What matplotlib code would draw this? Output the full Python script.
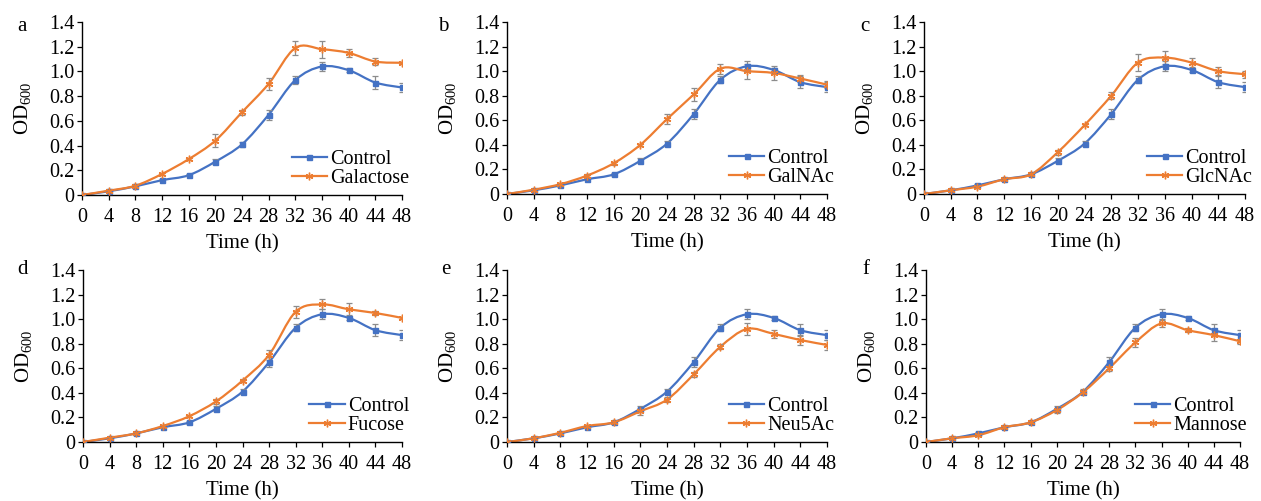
import numpy as np
import matplotlib
matplotlib.use("Agg")
import matplotlib.pyplot as plt
from matplotlib.path import Path
from matplotlib.patches import PathPatch
from matplotlib.ticker import FuncFormatter

plt.rcParams["font.family"] = ["Liberation Serif", "DejaVu Serif"]
plt.rcParams["mathtext.fontset"] = "custom"
plt.rcParams["mathtext.rm"] = "Liberation Serif"

# Time points (h)
time = [0, 4, 8, 12, 16, 20, 24, 28, 32, 36, 40, 44, 48]

# Control (same in every panel)
control = [0, 0.03, 0.07, 0.12, 0.16, 0.27, 0.41, 0.65, 0.93, 1.04, 1.01, 0.91, 0.87]
control_err = [0, 0.005, 0.01, 0.01, 0.01, 0.02, 0.02, 0.04, 0.03, 0.04, 0.015, 0.05, 0.04]

# Sugar treatments
galactose = [0, 0.035, 0.075, 0.17, 0.29, 0.44, 0.67, 0.90, 1.19, 1.18, 1.15, 1.08, 1.07]
galactose_err = [0, 0.01, 0.01, 0.01, 0.01, 0.05, 0.02, 0.05, 0.06, 0.07, 0.03, 0.03, 0.01]

galnac = [0, 0.035, 0.08, 0.15, 0.25, 0.40, 0.61, 0.81, 1.02, 1.00, 0.985, 0.94, 0.89]
galnac_err = [0, 0.005, 0.01, 0.01, 0.01, 0.01, 0.04, 0.05, 0.04, 0.06, 0.06, 0.03, 0.03]

glcnac = [0, 0.03, 0.06, 0.12, 0.16, 0.34, 0.56, 0.80, 1.07, 1.11, 1.07, 1.00, 0.975]
glcnac_err = [0, 0.005, 0.01, 0.01, 0.01, 0.02, 0.01, 0.03, 0.07, 0.05, 0.04, 0.03, 0.03]

fucose = [0, 0.035, 0.07, 0.13, 0.21, 0.33, 0.50, 0.71, 1.06, 1.12, 1.08, 1.05, 1.01]
fucose_err = [0, 0.005, 0.01, 0.01, 0.01, 0.02, 0.01, 0.04, 0.05, 0.04, 0.05, 0.02, 0.01]

neu5ac = [0, 0.03, 0.075, 0.13, 0.16, 0.25, 0.345, 0.55, 0.775, 0.92, 0.88, 0.83, 0.79]
neu5ac_err = [0, 0.005, 0.01, 0.01, 0.01, 0.03, 0.02, 0.02, 0.02, 0.05, 0.03, 0.04, 0.04]

mannose = [0, 0.03, 0.055, 0.12, 0.16, 0.26, 0.405, 0.60, 0.81, 0.965, 0.91, 0.87, 0.82]
mannose_err = [0, 0.005, 0.01, 0.01, 0.01, 0.02, 0.01, 0.02, 0.04, 0.03, 0.015, 0.05, 0.02]

letters = ["a", "b", "c", "d", "e", "f"]
names = ["Galactose", "GalNAc", "GlcNAc", "Fucose", "Neu5Ac", "Mannose"]
series = [galactose, galnac, glcnac, fucose, neu5ac, mannose]
errors = [galactose_err, galnac_err, glcnac_err, fucose_err, neu5ac_err, mannose_err]

blue = "#4472C4"
orange = "#ED7D31"


def smooth_path(x, y):
    # Excel-like smooth line: cubic Bezier segments through the data points
    x = np.asarray(x, float)
    y = np.asarray(y, float)
    n = len(x)
    verts = [(x[0], y[0])]
    codes = [Path.MOVETO]
    for i in range(n - 1):
        x0, y0 = (x[i - 1], y[i - 1]) if i > 0 else (x[i], y[i])
        x3, y3 = (x[i + 2], y[i + 2]) if i + 2 < n else (x[i + 1], y[i + 1])
        c1 = (x[i] + (x[i + 1] - x0) / 6, y[i] + (y[i + 1] - y0) / 6)
        c2 = (x[i + 1] - (x3 - x[i]) / 6, y[i + 1] - (y3 - y[i]) / 6)
        verts += [c1, c2, (x[i + 1], y[i + 1])]
        codes += [Path.CURVE4] * 3
    return Path(verts, codes)


fig = plt.figure(figsize=(12.61, 5.01), dpi=100)

# axes boxes in pixels (left, right, top, bottom)
lefts = [82, 507, 924, 83, 507, 926]
rights = [402, 827, 1245, 402, 827, 1240]
tops = [22, 22, 22, 270, 270, 270]
bottoms = [195, 194, 194, 442, 442, 442]
letter_x = [22, 443, 865, 22, 446, 866]
letter_base = [31, 31, 31, 274, 274, 274]
W, H = 1261, 501

fmt = FuncFormatter(lambda v, p: "0" if abs(v) < 1e-9 else f"{v:.1f}")

for k in range(6):
    ax = fig.add_axes([lefts[k] / W, (H - bottoms[k]) / H,
                       (rights[k] - lefts[k]) / W, (bottoms[k] - tops[k]) / H])

    for vals, err, col, mk, ms, lab in [
        (control, control_err, blue, "s", 3.6, "Control"),
        (series[k], errors[k], orange, (6, 2, 0), 5.5, names[k]),
    ]:
        ax.add_patch(PathPatch(smooth_path(time, vals), facecolor="none",
                               edgecolor=col, lw=1.6, zorder=2))
        ax.errorbar(time, vals, yerr=err, fmt="none", ecolor="#8c8c8c",
                    elinewidth=0.9, capsize=2.5, capthick=0.9, zorder=3)
        ax.plot(time, vals, linestyle="none", marker=mk, color=col,
                markersize=ms, markeredgewidth=1.0, zorder=4)
        ax.plot([], [], color=col, lw=1.6, marker=mk, markersize=ms,
                markeredgewidth=1.0, label=lab)

    ax.set_xlim(0, 48)
    ax.set_ylim(0, 1.4)
    ax.set_xticks(time)
    ax.set_yticks(np.arange(0, 1.41, 0.2))
    ax.yaxis.set_major_formatter(fmt)
    ax.tick_params(labelsize=14.5, length=3.5, width=0.9, direction="out")
    ax.tick_params(axis="x", pad=6)
    ax.tick_params(axis="y", pad=2)
    for s in ["top", "right"]:
        ax.spines[s].set_visible(False)
    for s in ["left", "bottom"]:
        ax.spines[s].set_linewidth(1.0)

    ax.set_xlabel("Time (h)", fontsize=15, labelpad=5)
    ax.set_ylabel("OD$_{600}$", fontsize=15, labelpad=11)
    ax.legend(loc="lower right", bbox_to_anchor=(1.022, 0.04), frameon=False,
              fontsize=14.5, handlelength=1.75, handletextpad=0.15,
              borderaxespad=0, borderpad=0, labelspacing=0.0)

    hpx = bottoms[k] - tops[k]
    ax.text((letter_x[k] - lefts[k]) / (rights[k] - lefts[k]),
            (bottoms[k] - letter_base[k]) / hpx, letters[k],
            transform=ax.transAxes, fontsize=15, ha="center", va="baseline")

fig.savefig("out.png", dpi=100)
